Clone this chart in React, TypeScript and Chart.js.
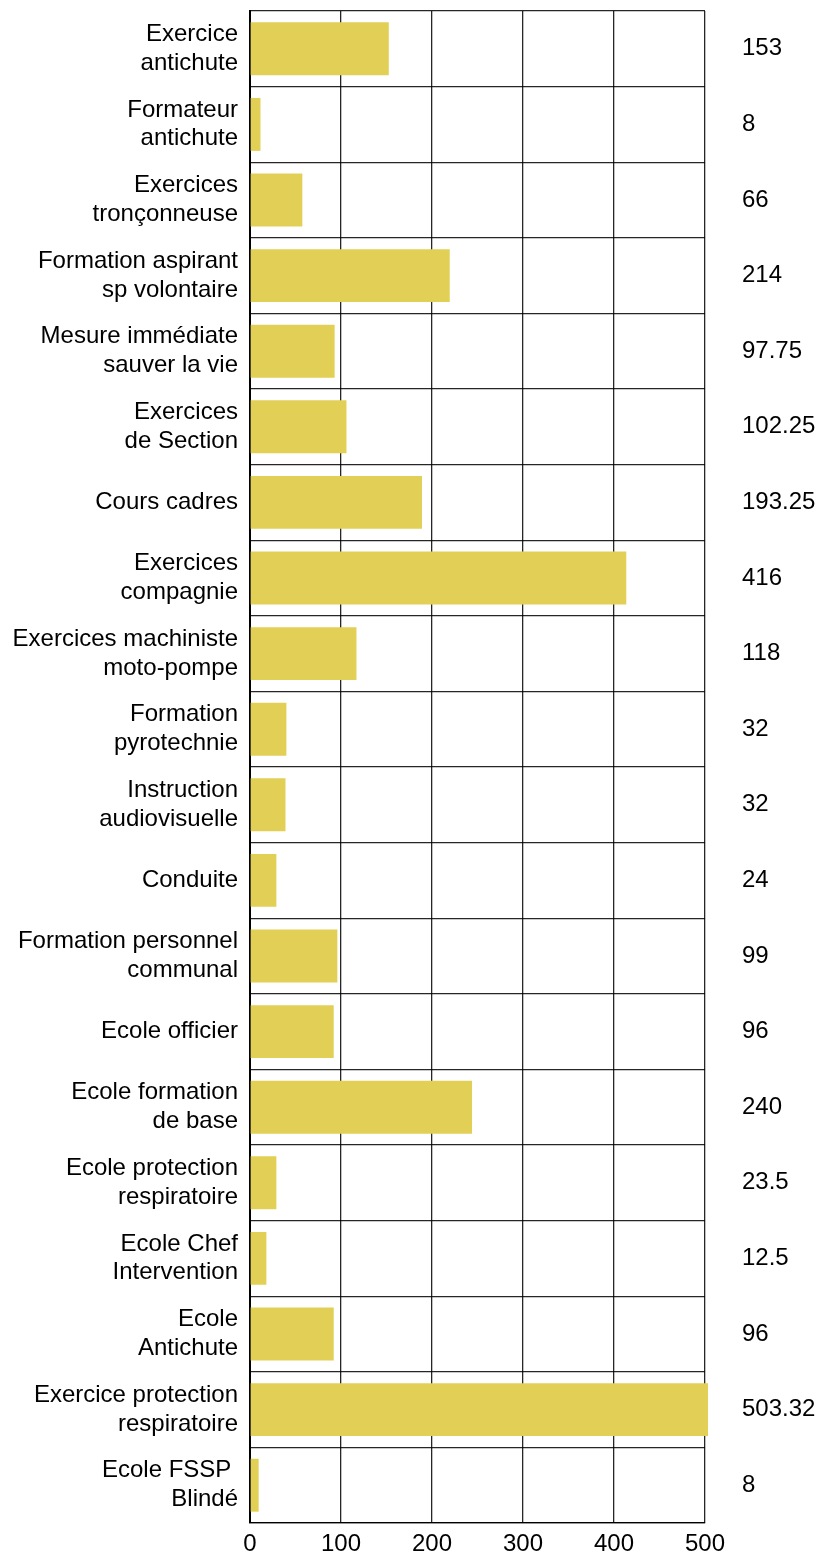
import React, { useEffect, useRef } from 'react';
import { Chart, registerables } from 'chart.js';

Chart.register(...registerables);

const categories: (string | string[])[] = [
  ['Exercice', 'antichute'],
  ['Formateur', 'antichute'],
  ['Exercices', 'tronçonneuse'],
  ['Formation aspirant', 'sp volontaire'],
  ['Mesure immédiate', 'sauver la vie'],
  ['Exercices', 'de Section'],
  'Cours cadres',
  ['Exercices', 'compagnie'],
  ['Exercices machiniste', 'moto-pompe'],
  ['Formation', 'pyrotechnie'],
  ['Instruction', 'audiovisuelle'],
  'Conduite',
  ['Formation personnel', 'communal'],
  'Ecole officier',
  ['Ecole formation', 'de base'],
  ['Ecole protection', 'respiratoire'],
  ['Ecole Chef', 'Intervention'],
  ['Ecole', 'Antichute'],
  ['Exercice protection', 'respiratoire'],
  ['Ecole FSSP ', 'Blindé'],
];

const barValues = [152.5, 11.5, 57.5, 219.5, 93, 106, 189, 413.5, 117, 40, 39, 29, 96, 92, 244, 29, 18, 92, 503.32, 9.5];

const valueLabels = ['153', '8', '66', '214', '97.75', '102.25', '193.25', '416', '118', '32', '32', '24', '99', '96', '240', '23.5', '12.5', '96', '503.32', '8'];

const xTicks = [0, 100, 200, 300, 400, 500];

const FONT = '"Liberation Sans", Arial, sans-serif';

export default function App() {
  const ref = useRef<HTMLCanvasElement | null>(null);

  useEffect(() => {
    if (!ref.current) return;
    const chart = new Chart(ref.current, {
      type: 'bar',
      data: {
        labels: categories as any,
        datasets: [
          {
            data: barValues,
            backgroundColor: 'rgb(226,208,86)',
            borderWidth: 0,
            categoryPercentage: 1,
            barPercentage: 0.7,
            clip: false as any,
            yAxisID: 'y',
          },
        ],
      },
      options: {
        indexAxis: 'y',
        animation: false,
        responsive: true,
        maintainAspectRatio: false,
        layout: { padding: { top: 3, left: 0, right: 0, bottom: 0 } },
        plugins: { legend: { display: false }, tooltip: { enabled: false } },
        scales: {
          x: {
            type: 'linear',
            min: xTicks[0],
            max: xTicks[xTicks.length - 1],
            afterBuildTicks: (s: any) => {
              s.ticks = xTicks.map((v) => ({ value: v }));
            },
            ticks: {
              color: '#000',
              font: { family: FONT, size: 24 },
              padding: 7,
              maxRotation: 0,
            },
            grid: { color: 'rgba(0,0,0,0.85)', lineWidth: 1.3, drawTicks: false },
            border: { color: '#000', width: 1.3 },
            afterFit: (s: any) => {
              s.height = 45;
              s.paddingLeft = 0;
              s.paddingRight = 0;
            },
          },
          y: {
            type: 'category',
            position: 'left',
            offset: true,
            ticks: {
              color: '#000',
              font: { family: FONT, size: 24, lineHeight: 1.2 },
              padding: 12,
              autoSkip: false,
            },
            grid: { color: 'rgba(0,0,0,0.85)', lineWidth: 1.3, drawTicks: false, offset: true },
            border: { color: '#000', width: 2 },
            afterFit: (s: any) => {
              s.width = 242;
              s.paddingTop = 0;
              s.paddingBottom = 0;
            },
          },
          y2: {
            type: 'category',
            position: 'right',
            labels: valueLabels,
            offset: true,
            ticks: {
              color: '#000',
              font: { family: FONT, size: 24 },
              padding: 37,
              autoSkip: false,
            },
            grid: { display: false, drawTicks: false },
            border: { display: false },
            afterFit: (s: any) => {
              s.width = 112;
              s.paddingTop = 0;
              s.paddingBottom = 0;
            },
          },
        } as any,
      },
    });
    return () => chart.destroy();
  }, []);

  return (
    <div style={{ position: 'relative', width: '100%', height: 1560 }}>
      <canvas ref={ref} />
    </div>
  );
}
